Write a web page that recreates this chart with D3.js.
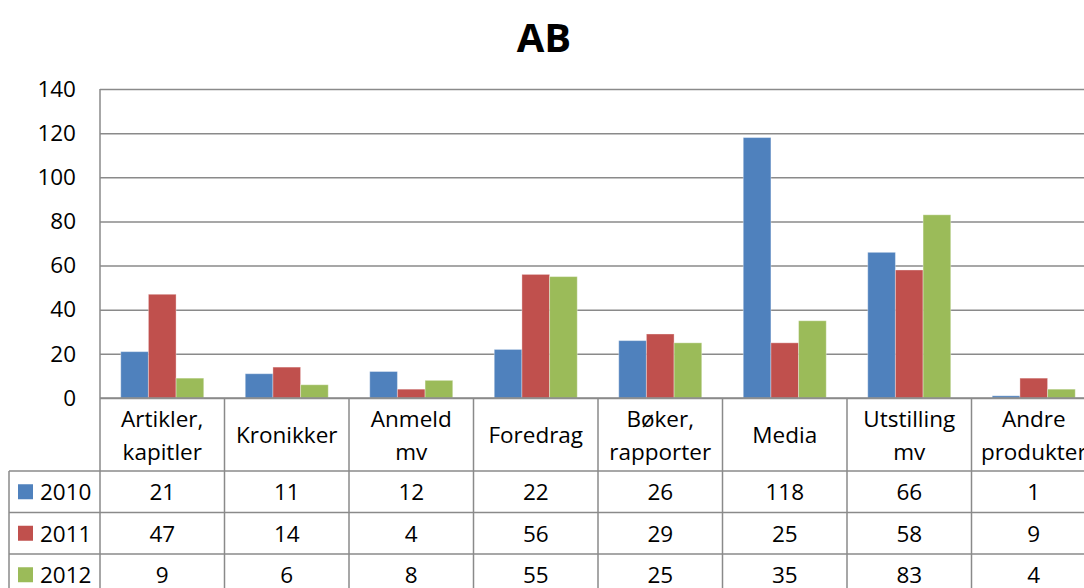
<!DOCTYPE html>
<html>
<head>
<meta charset="utf-8">
<script src="https://cdn.jsdelivr.net/npm/d3@7"></script>
<style>
  html, body { margin: 0; padding: 0; background: #fff; }
  svg { display: block; font-family: "Open Sans", Lato, sans-serif; }
</style>
</head>
<body>
<svg id="chart" width="1084" height="588"></svg>
<script>
const title = "AB";
const categories = [
  ["Artikler,", "kapitler"],
  ["Kronikker"],
  ["Anmeld", "mv"],
  ["Foredrag"],
  ["Bøker,", "rapporter"],
  ["Media"],
  ["Utstilling", "mv"],
  ["Andre", "produkter"]
];
const seriesNames = ["2010", "2011", "2012"];
const values2010 = [21, 11, 12, 22, 26, 118, 66, 1];
const values2011 = [47, 14, 4, 56, 29, 25, 58, 9];
const values2012 = [9, 6, 8, 55, 25, 35, 83, 4];
const yTicks = [0, 20, 40, 60, 80, 100, 120, 140];
const colors = ["#4F81BD", "#C0504D", "#9BBB59"];

const series = [values2010, values2011, values2012];
const catKeys = categories.map(c => c.join(" "));

const svg = d3.select("#chart");
const gridColor = "#8a8a8a";
const fontFam = "'Open Sans', Lato, sans-serif";
const fs = 22.5;

const plotLeft = 100, plotRight = 1096, plotTop = 89, plotBottom = 398;
const tableLeft = 9;
const headerBottom = 471;
const rowH = 41.5;

const x = d3.scaleBand().domain(catKeys).range([plotLeft, plotRight]);
const x1 = d3.scaleBand().domain(seriesNames).range([0, x.bandwidth()]).paddingInner(0).paddingOuter(0.75);
const y = d3.scaleLinear().domain([0, 140]).range([plotBottom, plotTop]);

// Title
svg.append("text")
  .attr("x", 544).attr("y", 36)
  .attr("text-anchor", "middle").attr("dominant-baseline", "central")
  .attr("font-size", 40).attr("font-weight", "bold").attr("fill", "#000")
  .text(title);

// Y axis with gridlines
const yAxis = svg.append("g")
  .attr("transform", `translate(${plotLeft},0)`)
  .call(d3.axisLeft(y).tickValues(yTicks).tickSize(-(plotRight - plotLeft)).tickPadding(24));
yAxis.select(".domain").remove();
yAxis.selectAll(".tick line").attr("stroke", gridColor).attr("stroke-width", 1.5);
yAxis.selectAll(".tick text").attr("font-size", fs).attr("fill", "#000")
  .attr("font-family", fontFam);

// vertical axis line
svg.append("line")
  .attr("x1", plotLeft).attr("x2", plotLeft)
  .attr("y1", plotTop).attr("y2", 588)
  .attr("stroke", gridColor).attr("stroke-width", 1.5);

// Bars
const groups = svg.append("g").selectAll("g")
  .data(catKeys).join("g")
  .attr("transform", d => `translate(${x(d)},0)`);
groups.selectAll("rect")
  .data((d, i) => seriesNames.map((s, j) => ({ s, v: series[j][i], j })))
  .join("rect")
  .attr("x", d => x1(d.s))
  .attr("width", x1.bandwidth())
  .attr("y", d => y(d.v))
  .attr("height", d => y(0) - y(d.v))
  .attr("fill", d => colors[d.j])
  .attr("stroke", "rgba(255,255,255,0.35)").attr("stroke-width", 1);

// Table lines
const tableG = svg.append("g").attr("stroke", gridColor).attr("stroke-width", 1.5);
tableG.append("line").attr("x1", plotLeft).attr("x2", plotRight).attr("y1", plotBottom).attr("y2", plotBottom);
catKeys.forEach(k => {
  const xr = x(k) + x.bandwidth();
  tableG.append("line").attr("x1", xr).attr("x2", xr).attr("y1", plotBottom).attr("y2", 588);
});
tableG.append("line").attr("x1", tableLeft).attr("x2", tableLeft).attr("y1", headerBottom).attr("y2", 588);
for (let r = 0; r <= seriesNames.length; r++) {
  const yy = headerBottom + r * rowH;
  tableG.append("line").attr("x1", tableLeft).attr("x2", plotRight).attr("y1", yy).attr("y2", yy);
}

// Category labels
const lineGap = 33;
const headerMid = (plotBottom + headerBottom) / 2;
categories.forEach((lines, i) => {
  const cx = x(catKeys[i]) + x.bandwidth() / 2;
  const t = svg.append("text")
    .attr("text-anchor", "middle").attr("font-size", fs).attr("fill", "#000");
  lines.forEach((ln, li) => {
    const cy = headerMid + (li - (lines.length - 1) / 2) * lineGap;
    t.append("tspan").attr("x", cx).attr("y", cy).attr("dominant-baseline", "central").text(ln);
  });
});

// Data rows
seriesNames.forEach((s, j) => {
  const cy = headerBottom + j * rowH + rowH / 2;
  svg.append("rect")
    .attr("x", 18).attr("y", cy - 7.5).attr("width", 15).attr("height", 15)
    .attr("fill", colors[j]);
  svg.append("text")
    .attr("x", 40).attr("y", cy).attr("dominant-baseline", "central")
    .attr("font-size", fs).attr("fill", "#000").text(s);
  series[j].forEach((v, i) => {
    svg.append("text")
      .attr("x", x(catKeys[i]) + x.bandwidth() / 2).attr("y", cy)
      .attr("text-anchor", "middle").attr("dominant-baseline", "central")
      .attr("font-size", fs).attr("fill", "#000").text(v);
  });
});
</script>
</body>
</html>
